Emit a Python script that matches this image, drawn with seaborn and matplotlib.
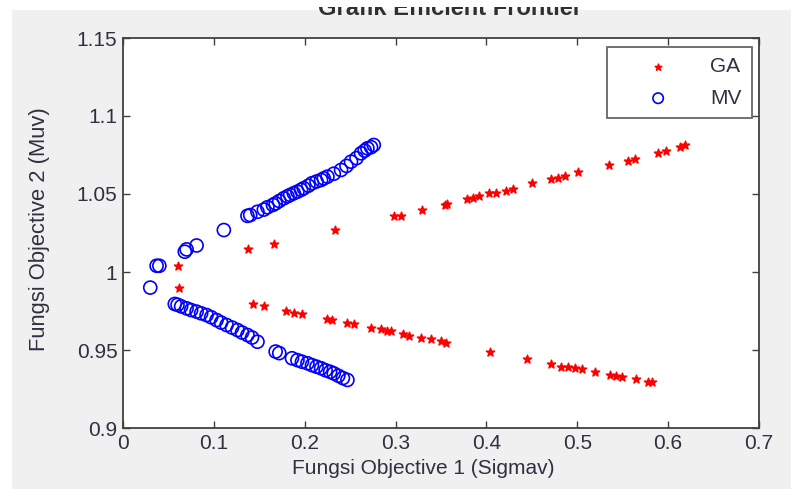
import numpy as np
import pandas as pd
import matplotlib
matplotlib.use("Agg")
import matplotlib.pyplot as plt
from matplotlib.patches import Rectangle
import seaborn as sns

# ---- data ----
ga_x = [0.060, 0.138, 0.166, 0.233, 0.298, 0.306, 0.329, 0.354, 0.357, 0.379, 0.385,
        0.392, 0.403, 0.411, 0.422, 0.429, 0.450, 0.471, 0.479, 0.486, 0.501, 0.535,
        0.556, 0.563, 0.589, 0.598, 0.613, 0.619,
        0.062, 0.143, 0.155, 0.179, 0.188, 0.197, 0.225, 0.230, 0.247, 0.254, 0.273,
        0.284, 0.291, 0.295, 0.308, 0.315, 0.328, 0.339, 0.350, 0.355, 0.404, 0.445,
        0.471, 0.482, 0.490, 0.497, 0.505, 0.519, 0.536, 0.543, 0.549, 0.565, 0.578, 0.582]
ga_y = [1.004, 1.0147, 1.018, 1.0269, 1.036, 1.036, 1.0397, 1.043, 1.0436, 1.0468, 1.0476,
        1.0487, 1.0504, 1.0508, 1.0519, 1.053, 1.0569, 1.0594, 1.0605, 1.0615, 1.064, 1.0686,
        1.0713, 1.0726, 1.0765, 1.0778, 1.080, 1.0812,
        0.990, 0.9795, 0.978, 0.975, 0.974, 0.973, 0.970, 0.9695, 0.9675, 0.9665, 0.9643,
        0.9633, 0.9622, 0.9622, 0.960, 0.959, 0.9575, 0.9569, 0.9558, 0.9547, 0.9485, 0.944,
        0.941, 0.9393, 0.9393, 0.9383, 0.9376, 0.936, 0.934, 0.9333, 0.9329, 0.9312, 0.9297, 0.9297]

mv_x = [0.030, 0.037, 0.040, 0.068, 0.070, 0.081, 0.111, 0.137, 0.140, 0.148, 0.155, 0.159,
        0.165, 0.168, 0.172, 0.177, 0.181, 0.184, 0.188, 0.192, 0.196, 0.199, 0.204, 0.208,
        0.213, 0.218, 0.221, 0.225, 0.232, 0.240, 0.246, 0.251, 0.257, 0.262, 0.266, 0.269,
        0.273, 0.276,
        0.057, 0.060, 0.064, 0.070, 0.075, 0.081, 0.086, 0.092, 0.097, 0.103, 0.108, 0.114,
        0.120, 0.126, 0.131, 0.137, 0.142, 0.148, 0.168, 0.172, 0.186, 0.192, 0.197, 0.203,
        0.208, 0.213, 0.218, 0.223, 0.228, 0.232, 0.237, 0.242, 0.247]
mv_y = [0.990, 1.004, 1.004, 1.013, 1.0145, 1.017, 1.0269, 1.036, 1.0365, 1.0386, 1.040, 1.0415,
        1.043, 1.044, 1.0455, 1.0473, 1.0485, 1.0494, 1.0505, 1.0515, 1.0527, 1.0537, 1.0553, 1.0569,
        1.058, 1.059, 1.060, 1.0611, 1.063, 1.0654, 1.068, 1.0707, 1.073, 1.0761, 1.0778, 1.0793,
        1.080, 1.0814,
        0.9795, 0.979, 0.978, 0.9767, 0.9756, 0.9746, 0.9735, 0.9724, 0.971, 0.9692, 0.9676, 0.966,
        0.9644, 0.9628, 0.9612, 0.9596, 0.958, 0.9553, 0.949, 0.948, 0.9447, 0.9435, 0.9425, 0.9415,
        0.9403, 0.9393, 0.9383, 0.937, 0.936, 0.935, 0.9335, 0.932, 0.9308]

series_labels = ["GA", "MV"]
x_ticks = [0, 0.1, 0.2, 0.3, 0.4, 0.5, 0.6, 0.7]
x_ticklabels = ["0", "0.1", "0.2", "0.3", "0.4", "0.5", "0.6", "0.7"]
y_ticks = [0.9, 0.95, 1.0, 1.05, 1.1, 1.15]
y_ticklabels = ["0.9", "0.95", "1", "1.05", "1.1", "1.15"]
title_text = "Grafik Efficient Frontier"
x_label = "Fungsi Objective 1 (Sigmav)"
y_label = "Fungsi Objective 2 (Muv)"

# ---- drawing ----
sns.set_style("white")
plt.rcParams['font.family'] = ['Liberation Sans', 'DejaVu Sans']
W, H = 791, 490
fig = plt.figure(figsize=(W / 100, H / 100), dpi=100)
fig.patch.set_facecolor("white")
bg = Rectangle((12 / W, 1 / H), (W - 12) / W, (489 - 10) / H,
               transform=fig.transFigure, facecolor="#f0f0f0",
               edgecolor="none", zorder=-10)
fig.patches.append(bg)

ax = fig.add_axes([123 / W, (H - 428) / H, 636 / W, 390 / H])
ax.set_zorder(1)
ax.set_facecolor("white")

ga_df = pd.DataFrame({"x": ga_x, "y": ga_y})
mv_df = pd.DataFrame({"x": mv_x, "y": mv_y})

sns.scatterplot(data=ga_df, x="x", y="y", ax=ax, marker="*", s=38, color="red",
                edgecolor="red", linewidth=1.1, label=series_labels[0], zorder=3)
sns.scatterplot(data=mv_df, x="x", y="y", ax=ax, marker="o", s=88, facecolor="none",
                edgecolor="blue", linewidth=1.2, label=series_labels[1], zorder=3)

ax.set_xlim(0, 0.7)
ax.set_ylim(0.9, 1.15)
ax.set_xticks(x_ticks)
ax.set_xticklabels(x_ticklabels)
ax.set_yticks(y_ticks)
ax.set_yticklabels(y_ticklabels)
ax.tick_params(axis="both", which="both", direction="in", length=5, width=1,
               colors="#404040", labelcolor="#303040", labelsize=15,
               top=True, right=True, bottom=True, left=True, pad=4)
for sp in ax.spines.values():
    sp.set_color("#404040")
    sp.set_linewidth(1.3)
    sp.set_visible(True)
ax.set_xlabel("")
ax.set_ylabel("")

fig.text(423 / W, 1 - 468 / H, x_label, ha="center", va="center", fontsize=15, color="#303040")
fig.text(40 / W, 1 - 229 / H, y_label, ha="center", va="center", rotation=90, fontsize=15.8,
         color="#303040")
fig.text(450 / W, 1 - 15 / H, title_text, ha="center", va="baseline", fontsize=17,
         fontweight="bold", color="#303030", zorder=1)
# the top of the title is hidden by a white strip in the reference
fig.patches.append(Rectangle((0, 1 - 7 / H), 1, 7 / H, transform=fig.transFigure,
                             facecolor="white", edgecolor="none", zorder=5))

leg = ax.legend(loc="upper right", bbox_to_anchor=(0.989, 0.977), borderaxespad=0,
                fontsize=15, frameon=True, fancybox=False, handlelength=3.9,
                handletextpad=0.55, borderpad=0.5, labelspacing=0.59, markerscale=0.8)
leg.get_frame().set_edgecolor("#404040")
leg.get_frame().set_linewidth(1.3)
for t in leg.get_texts():
    t.set_color("#303040")

fig.savefig("out.png", dpi=100, facecolor=fig.get_facecolor())
